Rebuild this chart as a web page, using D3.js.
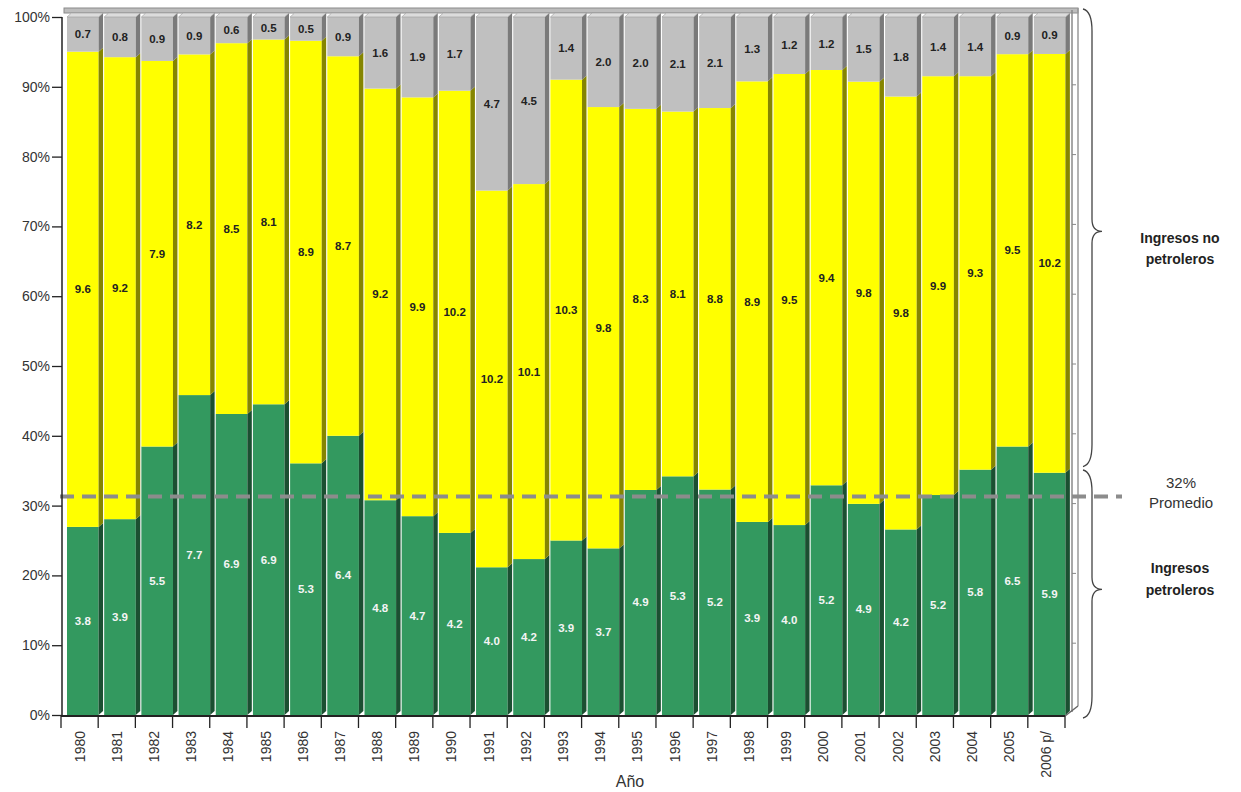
<!DOCTYPE html>
<html><head><meta charset="utf-8">
<script src="https://cdn.jsdelivr.net/npm/d3@7"></script>
<style>body{margin:0;background:#fff}svg{display:block;font-family:Arial,"Liberation Sans",sans-serif}</style>
</head><body><svg id="c" width="1241" height="792"></svg>
<script>
const years = ["1980","1981","1982","1983","1984","1985","1986","1987","1988","1989","1990","1991","1992","1993","1994","1995","1996","1997","1998","1999","2000","2001","2002","2003","2004","2005","2006 p/"];
const petroleros = [3.8,3.9,5.5,7.7,6.9,6.9,5.3,6.4,4.8,4.7,4.2,4.0,4.2,3.9,3.7,4.9,5.3,5.2,3.9,4.0,5.2,4.9,4.2,5.2,5.8,6.5,5.9];
const noPetroleros = [9.6,9.2,7.9,8.2,8.5,8.1,8.9,8.7,9.2,9.9,10.2,10.2,10.1,10.3,9.8,8.3,8.1,8.8,8.9,9.5,9.4,9.8,9.8,9.9,9.3,9.5,10.2];
const otros = [0.7,0.8,0.9,0.9,0.6,0.5,0.5,0.9,1.6,1.9,1.7,4.7,4.5,1.4,2.0,2.0,2.1,2.1,1.3,1.2,1.2,1.5,1.8,1.4,1.4,0.9,0.9];
const yTicks = [0,10,20,30,40,50,60,70,80,90,100];
const promedio = 31.3, promedioLabel = "32%";

const svg = d3.select("#c");
const x = d3.scaleBand().domain(years).range([61, 1065]).padding(0);
const y = d3.scaleLinear().domain([0, 100]).range([715, 17]);
const bw = x.bandwidth();
const faceOff = 6, faceW = bw * 0.85, sideW = bw * 0.12, dep = 4;

const series = [
  {key:"pet", vals:petroleros, fill:"#33995f", side:"#1b4f31", text:"#f4f4f4"},
  {key:"nop", vals:noPetroleros, fill:"#ffff00", side:"#858500", text:"#222"},
  {key:"otr", vals:otros, fill:"#c0c0c0", side:"#7a7a7a", text:"#222"}
];
const rows = years.map((yr, i) => {
  const tot = petroleros[i] + noPetroleros[i] + otros[i];
  let acc = 0;
  const segs = series.map(s => { const v = s.vals[i] / tot * 100; const seg = {s, v0: acc, v1: acc + v, val: s.vals[i]}; acc += v; return seg; });
  return {yr, segs};
});

// back wall frame
const g0 = svg.append("g");
g0.append("rect").attr("x", 64).attr("y", 8).attr("width", 1014).attr("height", 5).attr("fill", "#bdbdbd").attr("stroke", "#8a8a8a").attr("stroke-width", 1);
g0.append("line").attr("x1", 1072).attr("x2", 1072).attr("y1", 10).attr("y2", 712).attr("stroke", "#8a8a8a").attr("stroke-width", 1.5);
g0.append("line").attr("x1", 1078).attr("x2", 1078).attr("y1", 8).attr("y2", 706).attr("stroke", "#9a9a9a").attr("stroke-width", 1.5);
g0.append("path").attr("d", `M1065,716 L1078,706`).attr("stroke", "#666").attr("stroke-width", 1.5);
yTicks.filter(t => t > 0 && t < 100).forEach(t => {
  g0.append("line").attr("x1", 1072).attr("x2", 1076).attr("y1", y(t) - 2).attr("y2", y(t) - 2).attr("stroke", "#888");
});

// bars
const gb = svg.append("g");
rows.forEach(r => {
  const x0 = x(r.yr) + faceOff, x1 = x0 + faceW;
  r.segs.forEach(sg => {
    const yt = y(sg.v1), yb = y(sg.v0);
    gb.append("rect").attr("x", x0).attr("y", yt).attr("width", faceW).attr("height", yb - yt).attr("fill", sg.s.fill);
    gb.append("path").attr("d", `M${x1},${yt} L${x1 + sideW},${yt - dep} L${x1 + sideW},${yb - dep} L${x1},${yb} Z`).attr("fill", sg.s.side);
  });
  const yt = y(100);
  gb.append("path").attr("d", `M${x0},${yt} L${x0 + sideW},${yt - dep} L${x1 + sideW},${yt - dep} L${x1},${yt} Z`).attr("fill", "#dcdcdc").attr("stroke", "#9a9a9a").attr("stroke-width", 0.6);
  r.segs.forEach(sg => {
    gb.append("text").attr("x", x0 + faceW / 2).attr("y", (y(sg.v0) + y(sg.v1)) / 2 + 4)
      .attr("text-anchor", "middle").attr("font-size", 11.5).attr("font-weight", "bold")
      .attr("fill", sg.s.text).text(sg.val.toFixed(1));
  });
});

// average line
svg.append("line").attr("x1", 60).attr("x2", 1122).attr("y1", y(promedio)).attr("y2", y(promedio))
  .attr("stroke", "#8c8c8c").attr("stroke-width", 4).attr("stroke-dasharray", "14,8");

// axes
const ya = svg.append("g").attr("transform", "translate(62,0)")
  .call(d3.axisLeft(y).tickValues(yTicks).tickFormat(d => d + "%").tickSize(10).tickPadding(2));
ya.select(".domain").attr("stroke", "#222").attr("stroke-width", 1.5).attr("d", `M0,${y(100)}V${y(0)}`);
ya.selectAll("line").attr("stroke", "#222").attr("stroke-width", 1.3);
ya.selectAll("text").attr("font-size", 14).attr("fill", "#333").attr("font-family", "Arial, 'Liberation Sans', sans-serif");

const xa = svg.append("g").attr("transform", `translate(0,${y(0) + 1})`)
  .call(d3.axisBottom(x).tickValues([]).tickSize(0));
xa.select(".domain").attr("stroke", "#222").attr("stroke-width", 2).attr("d", `M61,0H1065`);
const edges = years.map(d => x(d)).concat([1065]);
xa.selectAll(".edge").data(edges).join("line").attr("x1", d => d).attr("x2", d => d).attr("y1", 0).attr("y2", 12).attr("stroke", "#222").attr("stroke-width", 1.3);
xa.selectAll(".yl").data(years).join("text")
  .attr("transform", d => `translate(${x(d) + bw / 2 + 5},15) rotate(-90)`)
  .attr("text-anchor", "end").attr("font-size", 14).attr("fill", "#333").text(d => d);
svg.append("text").attr("x", 630).attr("y", 787).attr("text-anchor", "middle").attr("font-size", 16).attr("fill", "#333").text("Año");

// braces
function brace(yTop, yBot, yTip) {
  const xe = 1083, xl = 1092, xt = 1102;
  return `M${xe},${yTop} Q${xl},${yTop + 2} ${xl},${yTop + 22} L${xl},${yTip - 12} Q${xl},${yTip} ${xt},${yTip} Q${xl},${yTip} ${xl},${yTip + 12} L${xl},${yBot - 22} Q${xl},${yBot - 2} ${xe},${yBot}`;
}
svg.append("path").attr("d", brace(y(100) - 8, y(35.6), y(69.3))).attr("fill", "none").attr("stroke", "#444").attr("stroke-width", 1.3);
svg.append("path").attr("d", brace(y(35.1), y(0) + 3, y(18))).attr("fill", "none").attr("stroke", "#444").attr("stroke-width", 1.3);

const ann = svg.append("g").attr("text-anchor", "middle").attr("fill", "#222");
ann.append("text").attr("x", 1180).attr("y", 243).attr("font-size", 14).attr("font-weight", "bold").text("Ingresos no");
ann.append("text").attr("x", 1180).attr("y", 264).attr("font-size", 14).attr("font-weight", "bold").text("petroleros");
ann.append("text").attr("x", 1181).attr("y", 488).attr("font-size", 15).attr("fill", "#333").text(promedioLabel);
ann.append("text").attr("x", 1181).attr("y", 508).attr("font-size", 15).attr("fill", "#333").text("Promedio");
ann.append("text").attr("x", 1180).attr("y", 573).attr("font-size", 14).attr("font-weight", "bold").text("Ingresos");
ann.append("text").attr("x", 1180).attr("y", 595).attr("font-size", 14).attr("font-weight", "bold").text("petroleros");
</script></body></html>
